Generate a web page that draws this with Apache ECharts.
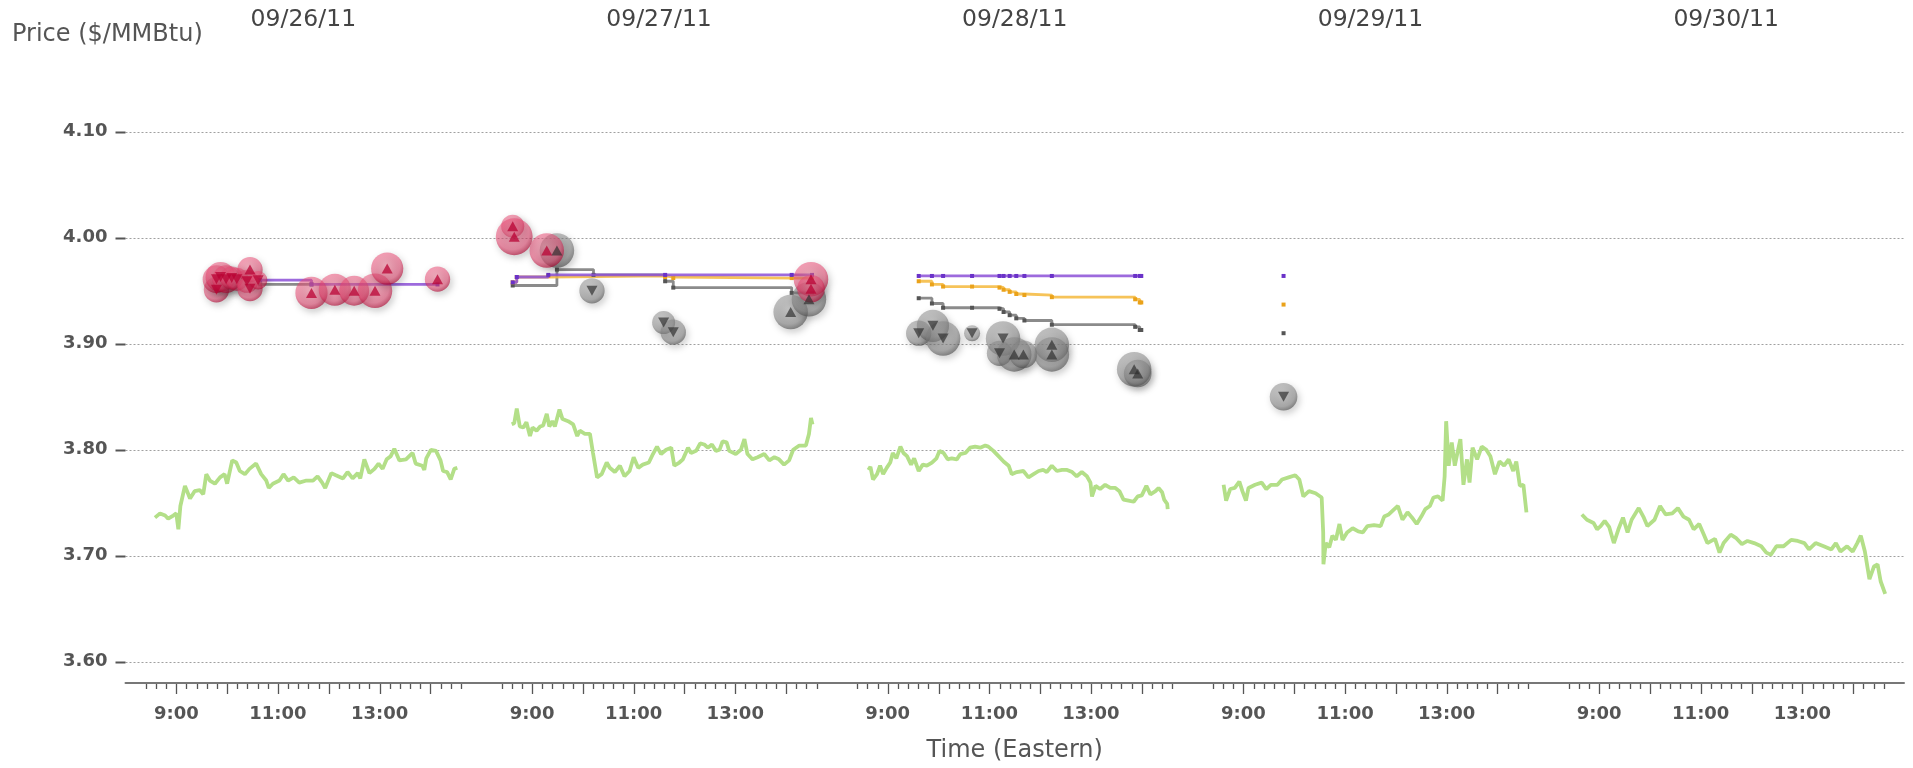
<!DOCTYPE html>
<html><head><meta charset="utf-8">
<script src="https://cdn.jsdelivr.net/npm/echarts@6/dist/echarts.min.js"></script>
<style>html,body{margin:0;padding:0;background:#fff}#c{width:1913px;height:768px}</style>
</head><body><div id="c"></div>
<script>
// ---------------- DATA ----------------
const dates = ['09/26/11', '09/27/11', '09/28/11', '09/29/11', '09/30/11'];
const dayStartHour = 8, dayEndHour = 15;          // each day window on the axis
const hourLabels = [9, 11, 13];
const priceTicks = [3.6, 3.7, 3.8, 3.9, 4.0, 4.1];
const priceMin = 3.58, priceMax = 4.18;

// intraday price (green), [hour, price]
const priceDay1 = [[8.58,3.736],[8.68,3.740],[8.78,3.738],[8.84,3.735],[8.94,3.738],[9.00,3.740],[9.04,3.725],[9.08,3.747],[9.17,3.766],[9.27,3.754],[9.36,3.761],[9.46,3.762],[9.53,3.758],[9.59,3.777],[9.66,3.771],[9.76,3.768],[9.86,3.774],[9.95,3.777],[10.00,3.768],[10.10,3.790],[10.18,3.788],[10.25,3.780],[10.35,3.777],[10.44,3.782],[10.57,3.787],[10.67,3.777],[10.77,3.771],[10.82,3.764],[10.90,3.768],[11.03,3.771],[11.11,3.777],[11.20,3.771],[11.31,3.774],[11.42,3.769],[11.56,3.771],[11.69,3.771],[11.78,3.775],[11.87,3.769],[11.93,3.764],[12.05,3.778],[12.14,3.776],[12.28,3.773],[12.37,3.779],[12.47,3.773],[12.57,3.778],[12.62,3.773],[12.70,3.791],[12.80,3.778],[12.90,3.782],[12.98,3.787],[13.06,3.782],[13.14,3.791],[13.22,3.794],[13.29,3.801],[13.39,3.790],[13.52,3.791],[13.65,3.797],[13.71,3.787],[13.84,3.785],[13.88,3.781],[13.92,3.792],[14.01,3.800],[14.11,3.799],[14.20,3.790],[14.25,3.780],[14.33,3.779],[14.40,3.772],[14.47,3.782],[14.53,3.783]];
const priceDay2 = [[8.60,3.824],[8.65,3.825],[8.70,3.839],[8.76,3.822],[8.83,3.821],[8.89,3.826],[8.96,3.813],[9.01,3.821],[9.09,3.818],[9.16,3.822],[9.22,3.823],[9.29,3.834],[9.34,3.822],[9.40,3.827],[9.45,3.822],[9.54,3.838],[9.60,3.829],[9.71,3.827],[9.81,3.824],[9.89,3.813],[9.94,3.818],[10.04,3.815],[10.14,3.815],[10.20,3.797],[10.28,3.774],[10.37,3.777],[10.47,3.788],[10.53,3.783],[10.63,3.779],[10.73,3.785],[10.82,3.775],[10.92,3.780],[11.00,3.793],[11.09,3.783],[11.18,3.786],[11.30,3.788],[11.38,3.796],[11.46,3.803],[11.54,3.796],[11.64,3.800],[11.74,3.802],[11.80,3.785],[11.90,3.788],[11.97,3.791],[12.07,3.802],[12.13,3.797],[12.23,3.799],[12.31,3.806],[12.39,3.805],[12.46,3.802],[12.54,3.805],[12.62,3.799],[12.69,3.800],[12.75,3.808],[12.83,3.807],[12.88,3.799],[13.01,3.796],[13.11,3.800],[13.18,3.810],[13.24,3.796],[13.34,3.791],[13.44,3.793],[13.57,3.796],[13.67,3.790],[13.77,3.793],[13.86,3.791],[13.96,3.786],[14.06,3.790],[14.14,3.800],[14.26,3.804],[14.39,3.804],[14.45,3.815],[14.49,3.830],[14.52,3.824]];
const priceDay3 = [[8.62,3.781],[8.66,3.784],[8.71,3.772],[8.79,3.777],[8.85,3.785],[8.91,3.777],[8.98,3.783],[9.05,3.788],[9.10,3.797],[9.17,3.792],[9.25,3.803],[9.31,3.797],[9.38,3.794],[9.46,3.786],[9.52,3.792],[9.61,3.780],[9.69,3.786],[9.77,3.785],[9.87,3.788],[9.96,3.792],[10.02,3.799],[10.10,3.797],[10.18,3.791],[10.26,3.792],[10.36,3.791],[10.43,3.796],[10.53,3.797],[10.62,3.802],[10.72,3.803],[10.82,3.802],[10.92,3.804],[10.98,3.803],[11.08,3.799],[11.18,3.794],[11.28,3.789],[11.38,3.785],[11.44,3.777],[11.54,3.779],[11.67,3.780],[11.77,3.774],[11.87,3.777],[11.97,3.780],[12.06,3.781],[12.13,3.779],[12.23,3.785],[12.33,3.780],[12.43,3.781],[12.53,3.781],[12.63,3.779],[12.72,3.775],[12.82,3.779],[12.92,3.775],[12.99,3.769],[13.02,3.756],[13.09,3.766],[13.18,3.763],[13.28,3.767],[13.38,3.764],[13.48,3.764],[13.56,3.761],[13.64,3.753],[13.74,3.752],[13.84,3.751],[13.92,3.756],[14.00,3.757],[14.09,3.766],[14.17,3.758],[14.27,3.761],[14.33,3.764],[14.40,3.760],[14.44,3.753],[14.50,3.749],[14.51,3.744]];
const priceDay4 = [[8.61,3.767],[8.66,3.752],[8.74,3.763],[8.83,3.764],[8.92,3.770],[8.98,3.761],[9.05,3.752],[9.10,3.764],[9.23,3.767],[9.36,3.769],[9.45,3.763],[9.54,3.767],[9.67,3.767],[9.76,3.772],[9.89,3.774],[10.02,3.776],[10.10,3.772],[10.18,3.756],[10.29,3.761],[10.42,3.759],[10.54,3.755],[10.57,3.722],[10.575,3.692],[10.62,3.712],[10.69,3.708],[10.75,3.719],[10.82,3.715],[10.89,3.730],[10.95,3.715],[11.04,3.722],[11.15,3.726],[11.26,3.723],[11.35,3.722],[11.44,3.728],[11.57,3.729],[11.70,3.728],[11.77,3.737],[11.86,3.739],[11.97,3.744],[12.04,3.747],[12.13,3.734],[12.23,3.741],[12.32,3.736],[12.41,3.730],[12.50,3.737],[12.58,3.744],[12.67,3.747],[12.74,3.755],[12.83,3.756],[12.92,3.752],[12.96,3.775],[12.99,3.827],[13.04,3.785],[13.10,3.807],[13.16,3.785],[13.22,3.799],[13.27,3.810],[13.33,3.767],[13.40,3.791],[13.45,3.769],[13.51,3.802],[13.60,3.791],[13.69,3.803],[13.78,3.800],[13.86,3.794],[13.95,3.777],[14.04,3.789],[14.13,3.785],[14.22,3.791],[14.31,3.780],[14.37,3.789],[14.44,3.766],[14.51,3.767],[14.57,3.741]];
const priceDay5 = [[8.66,3.739],[8.76,3.734],[8.89,3.731],[8.96,3.725],[9.03,3.728],[9.11,3.733],[9.20,3.727],[9.29,3.712],[9.38,3.725],[9.47,3.736],[9.56,3.722],[9.64,3.734],[9.78,3.745],[9.87,3.737],[9.95,3.728],[10.09,3.734],[10.20,3.747],[10.31,3.739],[10.44,3.740],[10.55,3.745],[10.66,3.737],[10.77,3.734],[10.86,3.725],[10.97,3.730],[11.06,3.720],[11.13,3.712],[11.28,3.716],[11.37,3.703],[11.45,3.712],[11.59,3.720],[11.69,3.717],[11.81,3.711],[11.92,3.714],[12.05,3.712],[12.19,3.709],[12.29,3.703],[12.38,3.701],[12.49,3.709],[12.63,3.709],[12.78,3.715],[12.91,3.714],[13.04,3.712],[13.13,3.706],[13.26,3.712],[13.42,3.709],[13.57,3.706],[13.66,3.712],[13.75,3.704],[13.88,3.709],[13.99,3.704],[14.08,3.712],[14.15,3.719],[14.23,3.704],[14.32,3.678],[14.41,3.690],[14.48,3.692],[14.54,3.676],[14.63,3.664]];

// step levels [hour, price] per day (purple / orange / gray)
const purpleDay1 = [[10.65,3.960],[11.66,3.956],[14.14,3.956]];
const grayDay1   = [[10.65,3.956],[11.66,3.956]];
const purpleDay2 = [[8.62,3.958],[8.70,3.963],[9.32,3.965],[11.62,3.965],[14.11,3.965],[14.51,3.965]];
const orangeDay2 = [[8.62,3.958],[8.70,3.963],[9.32,3.964],[11.62,3.963],[11.78,3.962],[14.11,3.962],[14.51,3.962]];
const grayDay2   = [[8.62,3.955],[9.49,3.970],[10.21,3.965],[11.62,3.959],[11.78,3.953],[14.11,3.948],[14.51,3.948]];
const purpleDay3 = [[9.61,3.964],[9.87,3.964],[10.09,3.964],[10.66,3.964],[11.20,3.964],[11.28,3.964],[11.40,3.964],[11.53,3.964],[11.69,3.964],[12.23,3.964],[13.87,3.964],[13.96,3.964],[13.99,3.964]];
const orangeDay3 = [[9.61,3.959],[9.87,3.956],[10.09,3.954],[10.66,3.954],[11.20,3.953],[11.28,3.951],[11.40,3.949],[11.53,3.947],[11.69,3.946],[12.23,3.944],[13.87,3.942],[13.96,3.939],[13.99,3.939]];
const grayDay3   = [[9.61,3.943],[9.87,3.938],[10.09,3.934],[10.66,3.934],[11.20,3.933],[11.28,3.930],[11.40,3.927],[11.53,3.924],[11.69,3.922],[12.23,3.918],[13.87,3.916],[13.96,3.913],[13.99,3.913]];
const purpleDay4 = [[9.79,3.964]];
const orangeDay4 = [[9.79,3.937]];
const grayDay4   = [[9.79,3.910]];

// trades: [dayIndex, hour, price, volume, direction(1 up / -1 down)]
const pinkTrades = [
  [0,9.79,3.951,11,-1],[0,9.79,3.961,12,-1],[0,9.87,3.963,13,-1],[0,9.98,3.961,12,-1],[0,10.09,3.962,10,-1],
  [0,10.19,3.961,10,-1],[0,10.39,3.959,10,-1],[0,10.45,3.970,11,1],[0,10.45,3.952,11,-1],[0,10.61,3.960,8,-1],
  [0,11.66,3.948,14,1],[0,12.12,3.951,14,1],[0,12.50,3.950,13,1],[0,12.91,3.950,15,1],[0,13.15,3.971,14,1],[0,14.14,3.961,11,1],
  [1,8.62,4.011,10,1],[1,8.65,4.001,16,1],[1,9.29,3.988,15,1],[1,14.49,3.961,15,1],[1,14.49,3.952,12,1]
];
const grayTrades = [
  [1,9.49,3.988,15,1],[1,10.18,3.950,11,-1],[1,11.59,3.920,10,-1],[1,11.78,3.911,11,-1],[1,14.09,3.930,15,1],[1,14.45,3.942,15,1],
  [2,9.61,3.910,11,-1],[2,9.89,3.917,14,-1],[2,10.09,3.905,15,-1],[2,10.66,3.910,7,-1],[2,11.27,3.905,15,-1],[2,11.20,3.891,11,-1],
  [2,11.49,3.890,15,1],[2,11.67,3.890,12,1],[2,12.23,3.899,15,1],[2,12.23,3.890,15,1],[2,13.85,3.876,15,1],[2,13.92,3.872,12,1],
  [3,9.79,3.850,12,-1]
];

// ---------------- BUILD ----------------
const hoursPerDay = dayEndHour - dayStartHour;
const toX = (d, h) => d * hoursPerDay + (h - dayStartHour);
const mapDay = (d, pts) => pts.map(p => [toX(d, p[0]), p[1]]);
const axisMax = dates.length * hoursPerDay;
const FONT = 'DejaVu Sans';

const chart = echarts.init(document.getElementById('c'), null, {renderer: 'canvas'});
const series = [];

// green price lines
[priceDay1, priceDay2, priceDay3, priceDay4, priceDay5].forEach((arr, d) => {
  series.push({type: 'line', data: mapDay(d, arr), showSymbol: false, symbol: 'none', z: 2,
    lineStyle: {color: '#b3df88', width: 3.8, join: 'bevel'}, silent: true});
});

function stepSeries(arr, d, color, mark, z) {
  return {type: 'line', step: 'end', data: mapDay(d, arr), z: z, symbol: 'rect', symbolSize: 4, showSymbol: true,
    lineStyle: {color: color, width: 2.8}, itemStyle: {color: mark}, silent: true};
}
const PURPLE = 'rgba(140,80,215,0.85)', PURPLE_M = '#6a32c8';
const ORANGE = 'rgba(245,185,60,0.85)', ORANGE_M = '#eaa21a';
const GRAY = 'rgba(110,110,110,0.8)', GRAY_M = '#555';
series.push(stepSeries(grayDay1, 0, GRAY, GRAY_M, 3));
series.push(stepSeries(purpleDay1, 0, PURPLE, PURPLE_M, 4));
series.push(stepSeries(grayDay2, 1, GRAY, GRAY_M, 3));
series.push(stepSeries(orangeDay2, 1, ORANGE, ORANGE_M, 3));
series.push(stepSeries(purpleDay2, 1, PURPLE, PURPLE_M, 4));
series.push(stepSeries(grayDay3, 2, GRAY, GRAY_M, 3));
series.push(stepSeries(orangeDay3, 2, ORANGE, ORANGE_M, 3));
series.push(stepSeries(purpleDay3, 2, PURPLE, PURPLE_M, 4));
series.push(stepSeries(grayDay4, 3, GRAY, GRAY_M, 3));
series.push(stepSeries(orangeDay4, 3, ORANGE, ORANGE_M, 3));
series.push(stepSeries(purpleDay4, 3, PURPLE, PURPLE_M, 4));

const tradePts = arr => arr.map(t => [toX(t[0], t[1]), t[2], t[3], t[4]]);
const pinkGrad = new echarts.graphic.RadialGradient(0.45, 0.4, 0.6, [
  {offset: 0, color: 'rgba(255,130,160,0.66)'}, {offset: 0.75, color: 'rgba(230,60,105,0.66)'}, {offset: 1, color: 'rgba(175,0,45,0.78)'}]);
const grayGrad = new echarts.graphic.RadialGradient(0.45, 0.4, 0.6, [
  {offset: 0, color: 'rgba(175,175,175,0.62)'}, {offset: 0.75, color: 'rgba(125,125,125,0.66)'}, {offset: 1, color: 'rgba(70,70,70,0.75)'}]);
const bubbleShadow = {shadowBlur: 7, shadowColor: 'rgba(0,0,0,0.35)', shadowOffsetX: 2, shadowOffsetY: 3};
const bubbleSize = v => v[2] * 2.3;

series.push({type: 'scatter', data: tradePts(grayTrades), z: 5, silent: true,
  symbolSize: bubbleSize, itemStyle: Object.assign({color: grayGrad}, bubbleShadow)});
series.push({type: 'scatter', data: tradePts(pinkTrades), z: 5, silent: true,
  symbolSize: bubbleSize, itemStyle: Object.assign({color: pinkGrad}, bubbleShadow)});
function triSeries(arr, dir, color) {
  return {type: 'scatter', z: 6, silent: true, symbol: 'triangle', symbolRotate: dir > 0 ? 0 : 180,
    symbolSize: [11, 10], itemStyle: {color: color},
    data: tradePts(arr.filter(t => t[4] === dir))};
}
series.push(triSeries(grayTrades, 1, 'rgba(45,45,45,0.85)'));
series.push(triSeries(grayTrades, -1, 'rgba(45,45,45,0.85)'));
series.push(triSeries(pinkTrades, 1, 'rgba(185,0,50,0.92)'));
series.push(triSeries(pinkTrades, -1, 'rgba(185,0,50,0.92)'));

// axis tick marks (per trading day window) drawn through the axis scale
const xTicks = [];
dates.forEach((_, d) => {
  for (let m = 24; m <= 396; m += 12) xTicks.push([toX(d, dayStartHour + m / 60), priceMin, m % 60 === 0 ? 1 : 0]);
});
series.push({type: 'custom', clip: false, silent: true, z: 10, data: xTicks,
  renderItem: (params, api) => {
    const p = api.coord([api.value(0), api.value(1)]);
    const len = api.value(2) ? 10 : 5;
    return {type: 'line', shape: {x1: Math.round(p[0]) + 0.5, y1: p[1] + 1, x2: Math.round(p[0]) + 0.5, y2: p[1] + 1 + len},
      style: {stroke: '#555', lineWidth: 1.3}};
  }});
series.push({type: 'custom', clip: false, silent: true, z: 10, data: priceTicks.map(v => [0, v]),
  renderItem: (params, api) => {
    const p = api.coord([api.value(0), api.value(1)]);
    return {type: 'line', shape: {x1: p[0] - 10, y1: Math.round(p[1]) + 0.5, x2: p[0], y2: Math.round(p[1]) + 0.5},
      style: {stroke: '#555', lineWidth: 2}};
  }});

const option = {
  animation: false,
  backgroundColor: '#fff',
  title: {text: 'Price ($/MMBtu)', left: 12, top: 23, padding: 0,
    textStyle: {fontFamily: FONT, fontSize: 24, fontWeight: 'normal', color: '#555'}},
  grid: {left: 125.5, right: 9, top: 47, bottom: 84},
  xAxis: [{
    type: 'value', min: 0, max: axisMax, interval: 1, position: 'bottom',
    axisLine: {show: true, lineStyle: {color: '#777', width: 2}},
    axisTick: {show: false}, splitLine: {show: false},
    axisLabel: {margin: 22, fontFamily: FONT, fontSize: 18, fontWeight: 'bold', color: '#555',
      formatter: v => {
        const d = Math.floor(v / hoursPerDay + 1e-9);
        const h = Math.round(dayStartHour + v - d * hoursPerDay);
        return hourLabels.indexOf(h) >= 0 ? h + ':00' : '';
      }},
    name: 'Time (Eastern)', nameLocation: 'middle', nameGap: 56,
    nameTextStyle: {fontFamily: FONT, fontSize: 24, color: '#555'}
  }, {
    type: 'value', min: 0, max: axisMax, interval: hoursPerDay / 2, position: 'top',
    axisLine: {show: false}, axisTick: {show: false}, splitLine: {show: false},
    axisLabel: {margin: 15, fontFamily: FONT, fontSize: 23.5, color: '#444',
      formatter: v => {
        const k = Math.round(v / (hoursPerDay / 2));
        return k % 2 === 1 ? dates[(k - 1) / 2] : '';
      }}
  }],
  yAxis: {
    type: 'value', min: priceMin, max: priceMax,
    axisLine: {show: false}, axisTick: {show: false},
    splitLine: {show: true, showMinLine: false, showMaxLine: false, lineStyle: {type: [2, 2], color: '#a0a0a0', width: 1}},
    axisLabel: {margin: 18, fontFamily: FONT, fontSize: 18, fontWeight: 'bold', color: '#555',
      showMinLabel: false, showMaxLabel: false,
      formatter: v => priceTicks.some(t => Math.abs(t - v) < 1e-6) ? v.toFixed(2) : ''}
  },
  series: series
};
chart.setOption(option);
</script></body></html>
